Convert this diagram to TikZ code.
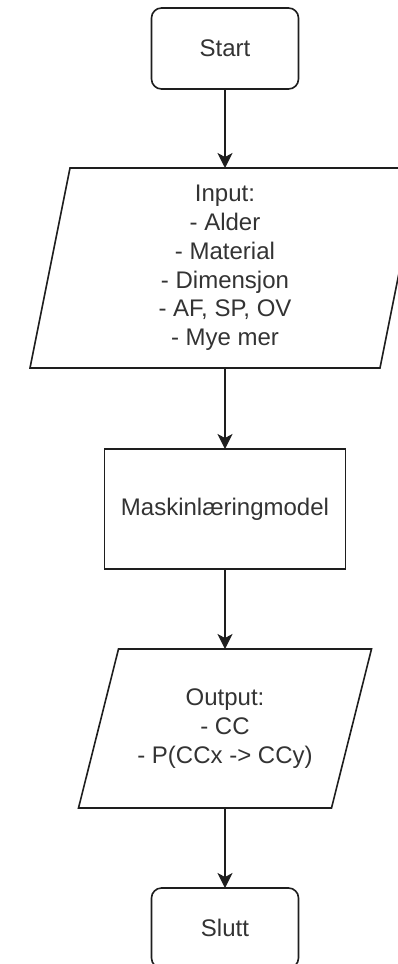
\documentclass[tikz,border=0pt]{standalone}
\usepackage{fontspec}
\setmainfont{Liberation Sans}
\usepackage{xcolor}
\usepackage{tikz}
\usetikzlibrary{positioning,arrows.meta}
\definecolor{linegray}{RGB}{30,30,30}
\definecolor{textgray}{RGB}{51,51,51}

\begin{document}
\begin{tikzpicture}[
  x=1pt, y=1pt,
  every node/.style={font=\fontsize{24}{28.8}\selectfont, text=textgray},
  term/.style={rectangle, draw=linegray, line width=1.6pt, rounded corners=10pt,
               minimum width=147pt, minimum height=81pt, outer sep=0pt},
  io/.style={rectangle, align=center, outer sep=0pt},
  ioline/.style={draw=linegray, line width=1.6pt},
  proc/.style={rectangle, draw=linegray, line width=1.6pt,
               minimum width=241pt, minimum height=120pt, outer sep=0pt},
  arrowstyle/.style={-{Stealth[length=15pt, width=15pt, inset=4pt]}, line width=1.6pt, color=linegray}
]
  \useasboundingbox (0,0) rectangle (398,-964);
  \clip (0,0) rectangle (398,-964);

  \node[term] (start) at (225,-48.5) {Start};
  \node[io, below=79pt of start, minimum width=350pt, minimum height=200pt] (input)
    {Input:\\- Alder\\- Material\\- Dimensjon\\- AF, SP, OV\\- Mye mer};
  \node[proc, below=81pt of input] (model) {Maskinlæringmodel};
  \node[io, below=80pt of model, minimum width=253pt, minimum height=159pt] (output)
    {Output:\\- CC\\- P(CCx -> CCy)};
  \node[term, below=80pt of output, minimum height=80pt] (slutt) {Slutt};

  % slanted outlines of the two data boxes
  \draw[ioline] ([xshift=20pt]input.north west) -- ([xshift=20pt]input.north east)
    -- ([xshift=-20pt]input.south east) -- ([xshift=-20pt]input.south west) -- cycle;
  \draw[ioline] ([xshift=20pt]output.north west) -- ([xshift=20pt]output.north east)
    -- ([xshift=-20pt]output.south east) -- ([xshift=-20pt]output.south west) -- cycle;

  \draw[arrowstyle] (start) -- (input);
  \draw[arrowstyle] (input) -- (model);
  \draw[arrowstyle] (model) -- (output);
  \draw[arrowstyle] (output) -- (slutt);
\end{tikzpicture}
\end{document}
